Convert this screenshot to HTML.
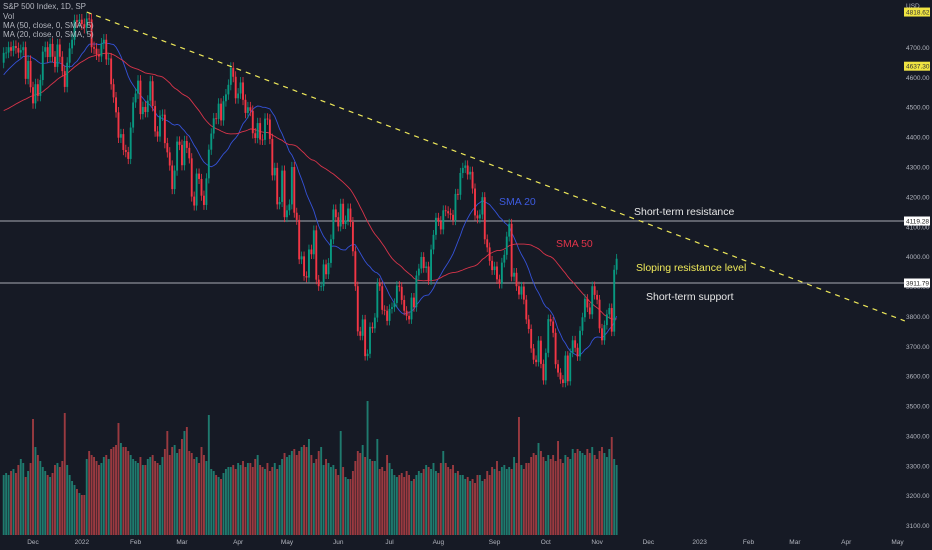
<!DOCTYPE html>
<html><head><meta charset="utf-8">
<style>
html,body{margin:0;padding:0;background:#161a25;}
svg{display:block;font-family:"Liberation Sans",sans-serif;}
</style></head>
<body>
<svg id="chart" width="932" height="550" viewBox="0 0 932 550" xmlns="http://www.w3.org/2000/svg">
<rect width="932" height="550" fill="#161a25"/>
<g id="vol"></g>
<g id="hlines"></g>
<g id="sma"></g>
<g id="candles"></g>
<g id="trend"></g>
<g id="axis"></g>
<g id="xaxis"></g>
<g font-size="8" fill="#b2b5be">
<text x="3" y="9">S&amp;P 500 Index, 1D, SP</text>
<text x="3" y="19">Vol</text>
<text x="3" y="28">MA (50, close, 0, SMA, 5)</text>
<text x="3" y="37">MA (20, close, 0, SMA, 5)</text>
</g>
<g font-size="10.5">
<text x="634" y="215" fill="#e6e6e6">Short-term resistance</text>
<text x="499" y="205" fill="#3d5be0">SMA 20</text>
<text x="556" y="247" fill="#e0344a">SMA 50</text>
<text x="636" y="271" fill="#f0ea5a">Sloping resistance level</text>
<text x="646" y="300" fill="#e6e6e6">Short-term support</text>
</g>
</svg>
<script>
const priorCloses=[4520,4514,4493,4458,4469,4443,4468,4480,4474,4433,4432,4358,4354,4396,4449,4455,4443,4352,4359,4307,
4357,4300,4345,4363,4399,4391,4361,4350,4364,4438,4471,4486,4519,4536,4549,4544,4566,4574,4551,4596,4605,
4613,4630,4660,4680,4697,4701,4685,4646,4649];
const closes=[4682,4683,4701,4689,4705,4698,4683,4691,4701,4595,4655,4567,
4513,4577,4538,4591,4686,4701,4668,4712,4669,4635,4710,4669,4621,4568,4649,4697,4726,4791,4786,4793,4778,4766,
4797,4794,4701,4696,4677,4670,4713,4726,4660,4663,4577,4533,4483,4398,4410,4357,4350,4327,4432,4516,
4546,4589,4477,4501,4484,4522,4587,4504,4419,4402,4472,4475,4380,4349,4305,4226,4288,4385,4374,
4306,4387,4364,4329,4201,4171,4278,4260,4204,4173,4262,4358,4412,4463,4461,4512,4456,4520,4543,4575,4632,4602,4530,
4546,4583,4525,4481,4500,4488,4413,4397,4447,4392,4391,4462,4459,4394,4272,4297,4175,4183,4288,4132,
4155,4175,4300,4147,4123,3991,4001,3935,3930,4024,4008,4088,3923,3901,3901,3974,3941,3979,4058,4158,4132,
4101,4177,4109,4121,4161,4116,4018,3901,3750,3735,3790,3667,3675,3765,3760,3796,3912,3901,3822,3819,3785,
3825,3831,3845,3903,3899,3855,3819,3802,3790,3863,3831,3937,3960,3999,3962,3967,3921,4024,4073,4130,
4119,4091,4155,4152,4145,4140,4122,4210,4207,4280,4297,4305,4275,4284,4228,4138,4128,4141,4199,4058,4031,3986,3955,
3967,3924,3909,3980,4006,4067,4110,3933,3946,3901,3873,3900,3856,3790,3758,3693,3655,3647,3719,3641,3586,
3678,3791,3783,3745,3640,3612,3589,3577,3669,3583,3678,3720,3695,3666,3752,3797,3859,3830,3807,3901,3872,
3856,3760,3720,3771,3807,3828,3749,3956,3993];
const volumes=[3.0,3.1,3.0,3.2,3.3,3.1,3.5,3.8,3.6,2.9,3.2,3.6,5.8,4.4,4.0,3.7,3.4,3.2,3.0,2.9,3.1,3.5,3.6,3.4,3.7,6.1,3.5,3.0,2.7,2.5,2.3,2.1,2.0,2.0,
3.8,4.2,4.0,3.9,3.7,3.5,3.6,3.9,4.0,3.8,4.3,4.4,4.5,5.6,4.6,4.4,4.4,4.2,4.0,3.8,3.7,3.6,3.9,3.5,3.5,3.8,3.9,4.0,3.7,3.6,
3.5,3.9,4.3,5.2,4.0,4.4,4.5,4.1,4.3,4.8,5.2,5.4,4.2,4.1,3.8,3.9,3.6,4.4,4.0,3.7,6.0,3.3,3.2,3.0,2.9,2.8,3.1,3.3,3.4,
3.4,3.5,3.3,3.6,3.5,3.7,3.4,3.6,
3.6,3.4,3.8,4.0,3.5,3.4,3.3,3.6,3.2,3.4,3.6,3.3,3.5,3.8,4.1,3.9,4.0,4.2,4.3,4.0,4.2,4.4,4.5,4.4,4.8,4.0,3.6,3.8,4.2,4.4,
3.5,3.8,3.6,3.4,3.5,3.3,3.0,5.2,3.4,2.9,2.8,2.8,3.2,3.7,4.2,4.1,4.5,3.9,6.7,3.8,3.7,3.7,4.8,3.3,3.4,3.2,4.0,3.6,3.3,3.0,
2.9,3.0,3.1,2.9,3.2,3.0,
2.7,2.8,3.0,3.2,3.1,3.3,3.5,3.4,3.3,3.6,3.2,3.1,3.6,4.2,3.6,3.4,3.3,3.5,3.1,3.2,3.0,3.0,2.8,2.9,2.7,2.8,2.6,3.0,3.0,2.7,
2.8,3.2,3.0,3.4,3.3,3.7,3.2,3.4,3.5,3.3,3.4,3.3,3.9,3.6,5.9,3.5,3.3,3.6,3.6,3.9,4.1,4.0,4.6,4.2,3.9,3.7,4.0,3.8,4.0,3.7,
4.7,3.8,3.6,4.0,3.9,3.8,4.3,4.1,4.3,4.2,4.1,4.0,4.3,4.1,4.4,4.0,3.8,4.2,4.4,4.1,3.9,4.3,4.9,3.8,3.5];
const priceTicks=[4700,4600,4500,4400,4300,4200,4100,4000,3900,3800,3700,3600,3500,3400,3300,3200,3100];
const monthLabels=["Dec","2022","Feb","Mar","Apr","May","Jun","Jul","Aug","Sep","Oct","Nov","Dec","2023","Feb","Mar","Apr","May"];
const monthIndex=[12,32,54,73,96,116,137,158,178,201,222,243,264,285,305,324,345,366];
const levels=[4119.28,3911.79];
const markers=[4818.62,4637.30];
const trendStart=[34,4818.62];
const trendEnd=[369,3785];

const NS="http://www.w3.org/2000/svg";
const X=i=>3.7+i*2.442;
const Y=p=>221+(4119.28-p)*0.2988;
const VY=v=>535-v*20;
function mk(tag,attrs,parent){const e=document.createElementNS(NS,tag);for(const k in attrs)e.setAttribute(k,attrs[k]);parent.appendChild(e);return e;}

const gV=document.getElementById('vol'),gC=document.getElementById('candles');
for(let i=0;i<closes.length;i++){
  const o=i===0?priorCloses[priorCloses.length-1]:closes[i-1],c=closes[i],up=c>=o;
  const vv=volumes[i]||0;
  const v=mk('rect',{x:X(i)-0.95,y:VY(vv),width:1.9,height:vv*20,fill:up?'#1f7a6e':'#9a3a40'},gV);
  
  
  const hi=Math.max(o,c)*1.004,lo=Math.min(o,c)*0.996;
  const col=up?'#089981':'#f23645';
  const w=mk('line',{x1:X(i),x2:X(i),y1:Y(hi),y2:Y(lo),stroke:col,'stroke-width':0.8},gC);
  
  
  const b=mk('rect',{x:X(i)-0.95,y:Y(Math.max(o,c)),width:1.9,height:Math.max(0.8,Math.abs(Y(o)-Y(c))),fill:col},gC);
  
  
}
const gS=document.getElementById('sma');
const all=priorCloses.concat(closes),off=priorCloses.length;
[[20,'#3552d8'],[50,'#d8344a']].forEach(([n,col])=>{
  let d='';
  for(let i=0;i<closes.length;i++){
    const j=i+off;
    const s=all.slice(Math.max(0,j-n+1),j+1);
    const m=s.reduce((a,b)=>a+b,0)/s.length;
    d+=(i?'L':'M')+X(i).toFixed(1)+','+Y(m).toFixed(1);
  }
  const p=mk('path',{d:d,fill:'none',stroke:col,'stroke-width':0.9},gS);
  
  
});
const gH=document.getElementById('hlines');
levels.forEach(l=>{
  const ln=mk('line',{x1:0,x2:905,y1:Y(l),y2:Y(l),stroke:'#a8abb3','stroke-width':1},gH);
  
  
});
const gT=document.getElementById('trend');
const tl=mk('line',{x1:X(trendStart[0]),y1:Y(trendStart[1]),x2:X(trendEnd[0]),y2:Y(trendEnd[1]),stroke:'#eee85a','stroke-width':1.2,'stroke-dasharray':'5 5'},gT);


const gA=document.getElementById('axis');
const u=mk('text',{x:906,y:8,'font-size':6.5,fill:'#b2b5be'},gA);u.textContent='USD';


priceTicks.forEach(p=>{
  const t=mk('text',{x:906,y:Y(p)+2.5,'font-size':6.5,fill:'#b2b5be'},gA);t.textContent=p.toFixed(2);
  
  
});
markers.forEach(p=>{
  const r=mk('rect',{x:904,y:Y(p)-4.5,width:26,height:9,fill:'#f0e442'},gA);
  
  
  const t=mk('text',{x:906,y:Y(p)+2.5,'font-size':6.5,fill:'#333'},gA);t.textContent=p.toFixed(2);
  
  
});
levels.forEach(p=>{
  const r=mk('rect',{x:904,y:Y(p)-4.5,width:26,height:9,fill:'#ffffff'},gA);
  
  
  const t=mk('text',{x:906,y:Y(p)+2.5,'font-size':6.5,fill:'#222'},gA);t.textContent=p.toFixed(2);
  
  
});
const gX=document.getElementById('xaxis');
monthLabels.forEach((m,k)=>{
  const t=mk('text',{x:X(monthIndex[k]),y:544,'font-size':6.5,fill:'#b2b5be','text-anchor':'middle'},gX);t.textContent=m;
  
  
});
</script>
</body></html>
